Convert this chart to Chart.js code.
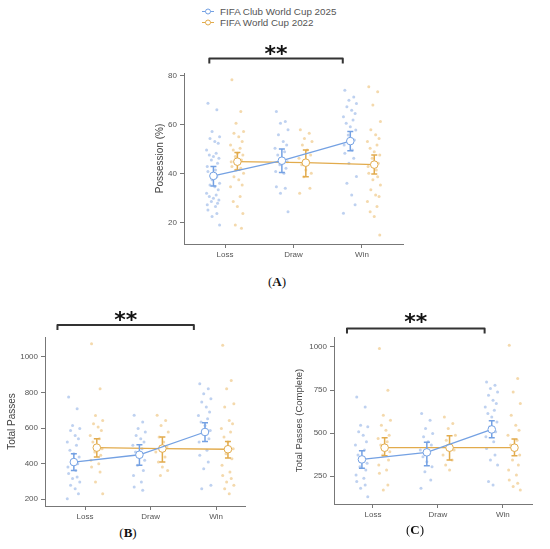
<!DOCTYPE html>
<html>
<head>
<meta charset="utf-8">
<script src="https://cdn.jsdelivr.net/npm/chart.js@4.4.0/dist/chart.umd.min.js"></script>
<style>
  html, body { margin: 0; padding: 0; background: #fff; }
  #fig { position: relative; width: 550px; height: 549px; overflow: hidden; font-family: "Liberation Sans", Arial, sans-serif; }
  #fig canvas { position: absolute; }
  .legend { position: absolute; left: 202px; top: 6px; font-size: 9.8px; color: #555; }
  .legend div { display: flex; align-items: center; height: 11px; white-space: nowrap; }
  .legend svg { margin-right: 6px; }
  .panel { position: absolute; transform: translate(-50%, -50%); font-family: "Liberation Serif", "Times New Roman", serif; font-size: 13px; color: #111; }
</style>
</head>
<body>
<div id="fig">
  <div class="legend" id="legend"></div>
  <canvas id="possessionChart" width="290" height="230" style="left:130px;top:40px;width:290px;height:230px"></canvas>
  <canvas id="passesChart" width="262" height="225" style="left:0px;top:300px;width:262px;height:225px"></canvas>
  <canvas id="completeChart" width="270" height="225" style="left:280px;top:300px;width:270px;height:225px"></canvas>
  <div class="panel" style="left:277px;top:282px">(<b>A</b>)</div>
  <div class="panel" style="left:128px;top:533px">(<b>B</b>)</div>
  <div class="panel" style="left:415px;top:530px">(<b>C</b>)</div>
</div>
<script>
(function () {
	'use strict';

	// Categories and series
	const categories = ['Loss', 'Draw', 'Win'];
	const seriesNames = ['FIFA Club World Cup 2025', 'FIFA World Cup 2022'];

	// Possession (%)
	const possTicks = [20, 40, 60, 80];
	const possClubLoss = [68.9, 66.2, 57.3, 55.2, 54.5, 53.2, 52.5, 49.8, 48.4, 47.7, 47.1, 46.4, 45.7, 44.4, 43.0, 41.6, 41.0, 38.9, 37.6, 36.2, 35.5, 34.8, 33.5, 32.1, 31.4, 30.8, 30.1, 29.4, 28.7, 28.0, 27.4, 26.7, 25.3, 23.9, 22.6, 19.2];
	const possClubDraw = [65.5, 61.4, 60.7, 58.0, 56.0, 53.2, 51.8, 50.5, 49.1, 47.7, 46.4, 45.0, 43.7, 42.3, 41.0, 40.3, 34.8, 34.2, 32.1, 24.6];
	const possClubWin = [74.2, 71.4, 70.1, 68.7, 67.4, 66.0, 64.7, 63.3, 62.0, 60.7, 59.3, 57.9, 55.9, 53.9, 51.8, 49.8, 48.4, 46.4, 44.4, 39.0, 36.2, 31.4, 27.4, 24.0];
	const possWcLoss = [78.4, 65.5, 60.7, 57.3, 56.6, 55.2, 53.2, 51.8, 50.5, 49.8, 48.4, 47.7, 47.1, 45.7, 45.0, 44.4, 43.0, 42.3, 41.6, 40.3, 38.9, 37.6, 35.5, 34.8, 30.8, 28.7, 26.7, 23.9, 19.2, 17.8];
	const possWcDraw = [58.0, 56.6, 54.5, 53.2, 51.8, 49.8, 47.7, 46.4, 45.0, 43.7, 41.6, 40.3, 38.9, 34.2, 32.1];
	const possWcWin = [75.6, 73.5, 68.1, 61.4, 58.0, 56.0, 54.5, 53.2, 51.8, 50.5, 49.1, 47.7, 46.4, 44.4, 43.0, 41.6, 40.3, 38.9, 37.6, 35.5, 33.5, 31.4, 30.8, 28.7, 26.7, 24.6, 22.6, 15.1];
	const possClubMean = [39.2, 45.4, 53.4];
	const possClubLo = [35.1, 40.6, 49.5];
	const possClubHi = [43.0, 50.2, 57.3];
	const possWcMean = [45.0, 44.6, 43.8];
	const possWcLo = [41.6, 38.9, 40.0];
	const possWcHi = [48.8, 49.8, 47.7];

	// Total passes
	const passTicks = [200, 400, 600, 800, 1000];
	const passClubLoss = [775, 709, 615, 597, 587, 559, 540, 522, 503, 475, 456, 437, 419, 400, 381, 362, 344, 325, 316, 297, 278, 259, 231, 203];
	const passClubDraw = [672, 634, 597, 578, 559, 540, 522, 503, 484, 465, 447, 419, 391, 362, 334, 297, 269, 250];
	const passClubWin = [849, 821, 793, 765, 746, 718, 690, 671, 653, 634, 615, 587, 568, 540, 522, 475, 447, 409, 372, 278, 259];
	const passWcLoss = [1074, 821, 671, 643, 625, 606, 587, 559, 540, 522, 503, 484, 465, 447, 419, 400, 381, 353, 297, 231];
	const passWcDraw = [672, 643, 615, 578, 550, 522, 494, 465, 437, 409, 381, 362, 334];
	const passWcWin = [1065, 868, 821, 737, 718, 643, 625, 597, 578, 550, 522, 484, 456, 428, 391, 353, 334, 316, 297, 278, 259, 231];
	const passClubMean = [409, 450, 578];
	const passClubLo = [362, 391, 525];
	const passClubHi = [456, 507, 630];
	const passWcMean = [490, 485, 481];
	const passWcLo = [437, 409, 432];
	const passWcHi = [540, 550, 525];

	// Total passes (complete)
	const compTicks = [250, 500, 750, 1000];
	const compClubLoss = [710, 652, 546, 536, 507, 488, 449, 430, 401, 372, 343, 324, 304, 285, 256, 237, 218, 198, 179, 130];
	const compClubDraw = [614, 575, 527, 498, 478, 449, 430, 401, 382, 362, 333, 304, 275, 227, 179];
	const compClubWin = [797, 778, 759, 739, 720, 691, 672, 652, 633, 614, 594, 565, 536, 507, 478, 449, 411, 372, 343, 314, 218, 198];
	const compWcLoss = [991, 749, 604, 575, 546, 517, 488, 469, 449, 430, 411, 391, 372, 343, 314, 285, 266, 198, 169];
	const compWcDraw = [594, 556, 527, 488, 459, 430, 401, 372, 343, 314, 285];
	const compWcWin = [1010, 817, 739, 672, 604, 546, 517, 488, 459, 430, 401, 372, 343, 314, 285, 256, 227, 208, 189, 169];
	const compClubMean = [347, 388, 521];
	const compClubLo = [295, 310, 473];
	const compClubHi = [397, 446, 571];
	const compWcMean = [415, 415, 415];
	const compWcLo = [368, 343, 368];
	const compWcHi = [473, 484, 465];

	// horizontal spread of the raw points inside a group
	const jitter = [-0.08, 0.05, -0.02, 0.09, -0.05, 0.02, 0.07, -0.1, 0.04, -0.06, 0.0, 0.08, -0.03, 0.06, -0.09, 0.03];

	const CLUB = { shift: -0.17, line: '#74a1e3', point: 'rgba(125, 163, 226, 0.5)' };
	const WC = { shift: 0.18, line: '#e2ab4c', point: 'rgba(234, 180, 90, 0.5)' };
	const tickFont = { family: '"Liberation Sans", Arial, sans-serif', size: 8 };

	// HTML legend
	document.getElementById('legend').innerHTML = [CLUB, WC].map((s, i) =>
		`<div><svg width="12" height="11"><line x1="0" y1="5.5" x2="12" y2="5.5" stroke="${s.line}" stroke-width="1"/>` +
		`<circle cx="6" cy="5.5" r="2.5" fill="#fff" stroke="${s.line}" stroke-width="1"/></svg>${seriesNames[i]}</div>`
	).join('');

	// error bars drawn just before the mean series
	const errorBars = {
		id: 'errorBars',
		beforeDatasetDraw(chart, args) {
			const ds = chart.data.datasets[args.index];
			if (!ds.errLo) return;
			const { ctx, scales: { x, y } } = chart;
			ctx.save();
			ctx.strokeStyle = ds.borderColor;
			ctx.lineWidth = 1.5;
			ds.data.forEach((p, i) => {
				const px = x.getPixelForValue(p.x);
				const top = y.getPixelForValue(ds.errHi[i]);
				const bot = y.getPixelForValue(ds.errLo[i]);
				ctx.beginPath();
				ctx.moveTo(px, top); ctx.lineTo(px, bot);
				ctx.moveTo(px - 3, top); ctx.lineTo(px + 3, top);
				ctx.moveTo(px - 3, bot); ctx.lineTo(px + 3, bot);
				ctx.stroke();
			});
			ctx.restore();
		}
	};

	// significance bracket above the plot
	const bracket = {
		id: 'bracket',
		afterDraw(chart, args, opts) {
			const { ctx, chartArea, scales: { x } } = chart;
			const x0 = x.getPixelForValue(opts.from);
			const x1 = x.getPixelForValue(opts.to);
			const yb = chartArea.top - opts.gap;
			ctx.save();
			ctx.strokeStyle = '#333';
			ctx.lineWidth = 2;
			ctx.lineJoin = 'round';
			ctx.beginPath();
			ctx.moveTo(x0, yb + 5); ctx.lineTo(x0, yb); ctx.lineTo(x1, yb); ctx.lineTo(x1, yb + 5);
			ctx.stroke();
			ctx.font = 'bold 22px "DejaVu Sans"';
			ctx.fillStyle = '#111';
			ctx.textAlign = 'center';
			const m = ctx.measureText(opts.text);
			const cy = yb - opts.textGap;
			ctx.fillText(opts.text, (x0 + x1) / 2, cy + (m.actualBoundingBoxAscent - m.actualBoundingBoxDescent) / 2);
			ctx.restore();
		}
	};

	function rawPoints(groups, s) {
		const pts = [];
		groups.forEach((vals, i) => {
			vals.forEach((v, j) => pts.push({ x: i + s.shift + jitter[j % jitter.length], y: v }));
		});
		return pts;
	}

	function meanSeries(label, mean, lo, hi, s) {
		return {
			label: label,
			data: mean.map((v, i) => ({ x: i + s.shift, y: v })),
			showLine: true,
			borderColor: s.line,
			borderWidth: 1.3,
			pointRadius: 3.8,
			pointBorderWidth: 1,
			pointBackgroundColor: '#fff',
			pointBorderColor: s.line,
			errLo: lo,
			errHi: hi
		};
	}

	function createPanel(canvasId, p) {
		return new Chart(document.getElementById(canvasId), {
			type: 'scatter',
			data: {
				datasets: [
					meanSeries(seriesNames[0], p.clubMean, p.clubLo, p.clubHi, CLUB),
					meanSeries(seriesNames[1], p.wcMean, p.wcLo, p.wcHi, WC),
					{ label: 'club raw', data: rawPoints(p.club, CLUB), pointRadius: 1.5, pointBorderWidth: 0, pointBackgroundColor: CLUB.point },
					{ label: 'wc raw', data: rawPoints(p.wc, WC), pointRadius: 1.5, pointBorderWidth: 0, pointBackgroundColor: WC.point }
				]
			},
			options: {
				responsive: false,
				animation: false,
				events: [],
				layout: { padding: { left: 0, top: p.top, right: p.right, bottom: 0 } },
				plugins: {
					legend: { display: false },
					tooltip: { enabled: false },
					bracket: p.bracket
				},
				scales: {
					x: {
						type: 'linear',
						min: p.xMin,
						max: p.xMax,
						afterBuildTicks: s => { s.ticks = categories.map((c, i) => ({ value: i })); },
						afterFit: s => { s.height = p.xHeight; },
						ticks: { callback: v => categories[v], font: tickFont, color: '#555', padding: 2, maxRotation: 0 },
						grid: { drawOnChartArea: false, tickLength: 4, color: '#777' },
						border: { color: '#777' }
					},
					y: {
						min: p.yMin,
						max: p.yMax,
						afterBuildTicks: s => { s.ticks = p.ticks.map(v => ({ value: v })); },
						afterFit: s => { s.width = p.yWidth; },
						ticks: { callback: v => String(v), font: tickFont, color: '#555', padding: 3 },
						grid: { drawOnChartArea: false, tickLength: 4, color: '#777' },
						border: { color: '#777' },
						title: {
							display: true,
							text: p.title,
							color: '#444',
							font: { family: '"Liberation Sans", Arial, sans-serif', size: p.titleSize },
							padding: { top: p.titlePad, bottom: 0 }
						}
					}
				}
			},
			plugins: [errorBars, bracket]
		});
	}

	createPanel('possessionChart', {
		club: [possClubLoss, possClubDraw, possClubWin],
		wc: [possWcLoss, possWcDraw, possWcWin],
		clubMean: possClubMean, clubLo: possClubLo, clubHi: possClubHi,
		wcMean: possWcMean, wcLo: possWcLo, wcHi: possWcHi,
		ticks: possTicks, yMin: 11.4, yMax: 81.2, xMin: -0.6, xMax: 2.6,
		title: 'Possession (%)', titleSize: 10, titlePad: 24,
		top: 33, right: 17, yWidth: 54, xHeight: 26,
		bracket: { from: -0.23, to: 1.72, gap: 14.5, textGap: 8.5, text: '**' }
	});

	createPanel('passesChart', {
		club: [passClubLoss, passClubDraw, passClubWin],
		wc: [passWcLoss, passWcDraw, passWcWin],
		clubMean: passClubMean, clubLo: passClubLo, clubHi: passClubHi,
		wcMean: passWcMean, wcLo: passWcLo, wcHi: passWcHi,
		ticks: passTicks, yMin: 162, yMax: 1112, xMin: -0.61, xMax: 2.44,
		title: 'Total Passes', titleSize: 10, titlePad: 6.5,
		top: 37, right: 17, yWidth: 45, xHeight: 19,
		bracket: { from: -0.42, to: 1.66, gap: 12, textGap: 9, text: '**' }
	});

	createPanel('completeChart', {
		club: [compClubLoss, compClubDraw, compClubWin],
		wc: [compWcLoss, compWcDraw, compWcWin],
		clubMean: compClubMean, clubLo: compClubLo, clubHi: compClubHi,
		wcMean: compWcMean, wcLo: compWcLo, wcHi: compWcHi,
		ticks: compTicks, yMin: 88, yMax: 1058, xMin: -0.6, xMax: 2.45,
		title: 'Total Passes (Complete)', titleSize: 9.5, titlePad: 14,
		top: 37, right: 18, yWidth: 54, xHeight: 21,
		bracket: { from: -0.4, to: 1.72, gap: 8.5, textGap: 10.5, text: '**' }
	});
})();
</script>
</body>
</html>
